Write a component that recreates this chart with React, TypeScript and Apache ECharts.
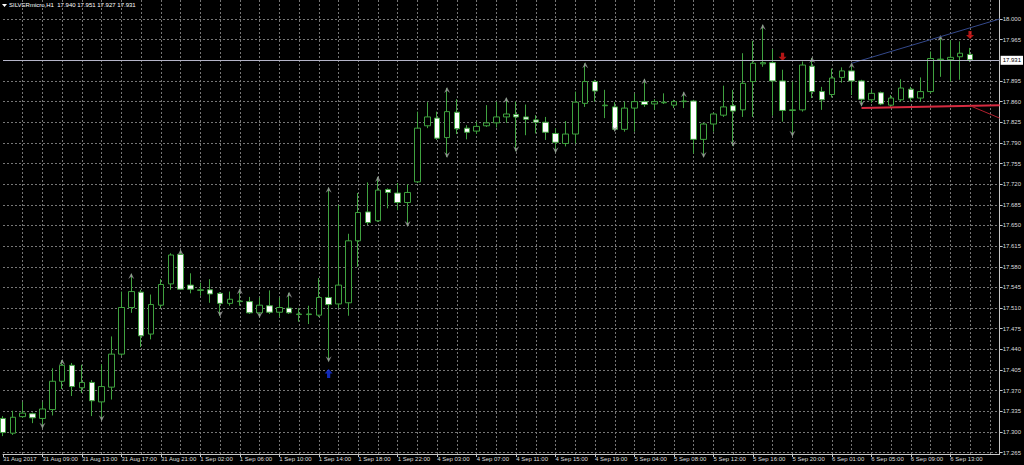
import React, { useEffect, useRef } from "react";
import * as echarts from "echarts";

const symbolName = "SILVERmicro,H1";

const opens = [
  17.323, 17.298, 17.326, 17.331, 17.323, 17.338, 17.386, 17.413, 17.375, 17.384,
  17.351, 17.376, 17.432, 17.511, 17.537, 17.466, 17.515, 17.551, 17.601, 17.549,
  17.540, 17.541, 17.535, 17.518, 17.521, 17.521, 17.502, 17.514, 17.503, 17.510,
  17.499, 17.499, 17.498, 17.528, 17.517, 17.519, 17.624, 17.673, 17.658, 17.711,
  17.705, 17.689, 17.724, 17.819, 17.832, 17.799, 17.842, 17.815, 17.810, 17.819,
  17.824, 17.834, 17.838, 17.834, 17.829, 17.825, 17.806, 17.789, 17.805, 17.857,
  17.894, 17.853, 17.851, 17.813, 17.849, 17.860, 17.856, 17.858, 17.854, 17.860,
  17.861, 17.796, 17.822, 17.837, 17.853, 17.846, 17.894, 17.924, 17.926, 17.895,
  17.845, 17.846, 17.920, 17.877, 17.872, 17.901, 17.912, 17.895, 17.863, 17.875,
  17.854, 17.863, 17.881, 17.866, 17.877, 17.931, 17.931, 17.936, 17.940,
];
const closes = [
  17.299, 17.325, 17.332, 17.324, 17.339, 17.386, 17.413, 17.377, 17.384, 17.353,
  17.377, 17.432, 17.511, 17.538, 17.463, 17.516, 17.550, 17.600, 17.542, 17.542,
  17.541, 17.534, 17.518, 17.525, 17.522, 17.502, 17.515, 17.503, 17.511, 17.502,
  17.500, 17.500, 17.528, 17.516, 17.549, 17.624, 17.672, 17.655, 17.710, 17.706,
  17.689, 17.706, 17.815, 17.834, 17.798, 17.843, 17.814, 17.808, 17.818, 17.824,
  17.834, 17.839, 17.834, 17.830, 17.825, 17.808, 17.791, 17.805, 17.859, 17.894,
  17.878, 17.854, 17.813, 17.849, 17.860, 17.855, 17.860, 17.859, 17.860, 17.861,
  17.796, 17.822, 17.839, 17.851, 17.844, 17.891, 17.925, 17.926, 17.895, 17.845,
  17.846, 17.922, 17.877, 17.863, 17.900, 17.912, 17.895, 17.864, 17.874, 17.856,
  17.866, 17.883, 17.866, 17.877, 17.933, 17.932, 17.935, 17.942, 17.931,
];
const highs = [
  17.327, 17.336, 17.351, 17.333, 17.351, 17.408, 17.422, 17.417, 17.414, 17.388,
  17.415, 17.462, 17.538, 17.568, 17.541, 17.533, 17.559, 17.603, 17.608, 17.569,
  17.553, 17.559, 17.537, 17.538, 17.542, 17.529, 17.528, 17.540, 17.528, 17.536,
  17.510, 17.514, 17.561, 17.714, 17.685, 17.636, 17.705, 17.723, 17.732, 17.713,
  17.722, 17.720, 17.843, 17.859, 17.843, 17.883, 17.864, 17.820, 17.826, 17.854,
  17.860, 17.866, 17.860, 17.855, 17.837, 17.834, 17.815, 17.827, 17.877, 17.925,
  17.897, 17.880, 17.859, 17.860, 17.874, 17.898, 17.864, 17.874, 17.863, 17.876,
  17.863, 17.824, 17.841, 17.887, 17.880, 17.942, 17.963, 17.990, 17.949, 17.914,
  17.894, 17.928, 17.934, 17.885, 17.916, 17.918, 17.925, 17.897, 17.880, 17.877,
  17.871, 17.898, 17.885, 17.901, 17.945, 17.971, 17.964, 17.962, 17.951,
];
const lows = [
  17.293, 17.295, 17.324, 17.315, 17.307, 17.328, 17.373, 17.361, 17.366, 17.327,
  17.320, 17.355, 17.429, 17.502, 17.444, 17.457, 17.510, 17.541, 17.541, 17.535,
  17.531, 17.519, 17.497, 17.514, 17.514, 17.500, 17.495, 17.500, 17.495, 17.500,
  17.487, 17.483, 17.495, 17.420, 17.510, 17.497, 17.580, 17.651, 17.656, 17.679,
  17.676, 17.649, 17.722, 17.815, 17.795, 17.766, 17.805, 17.796, 17.805, 17.817,
  17.816, 17.824, 17.776, 17.803, 17.806, 17.795, 17.774, 17.784, 17.789, 17.851,
  17.860, 17.832, 17.810, 17.809, 17.809, 17.851, 17.846, 17.856, 17.849, 17.849,
  17.772, 17.766, 17.809, 17.834, 17.785, 17.834, 17.834, 17.919, 17.836, 17.826,
  17.802, 17.843, 17.866, 17.846, 17.867, 17.892, 17.871, 17.853, 17.858, 17.854,
  17.849, 17.860, 17.860, 17.860, 17.874, 17.902, 17.894, 17.897, 17.927,
];

const xTickLabels = [
  "31 Aug 2017", "31 Aug 09:00", "31 Aug 13:00", "31 Aug 17:00", "31 Aug 21:00",
  "1 Sep 02:00", "1 Sep 06:00", "1 Sep 10:00", "1 Sep 14:00", "1 Sep 18:00",
  "1 Sep 22:00", "4 Sep 03:00", "4 Sep 07:00", "4 Sep 11:00", "4 Sep 15:00",
  "4 Sep 19:00", "5 Sep 04:00", "5 Sep 08:00", "5 Sep 12:00", "5 Sep 16:00",
  "5 Sep 20:00", "6 Sep 01:00", "6 Sep 05:00", "6 Sep 09:00", "6 Sep 13:00",
];

const yTicks = [
  17.265, 17.3, 17.335, 17.37, 17.405, 17.44, 17.475, 17.51, 17.545, 17.58, 17.615,
  17.65, 17.685, 17.72, 17.755, 17.79, 17.825, 17.86, 17.895, 17.965, 18.0,
];

// fractal markers [bar index, price]
const fractalUp = [
  [6, 17.422], [13, 17.568], [18, 17.608], [24, 17.542], [29, 17.536], [33, 17.714],
  [38, 17.732], [45, 17.883], [51, 17.866], [59, 17.925], [65, 17.898], [69, 17.876],
  [77, 17.99], [82, 17.934], [86, 17.925], [95, 17.971],
];
const fractalDown = [
  [4, 17.307], [10, 17.32], [22, 17.497], [26, 17.495], [33, 17.42], [41, 17.649],
  [45, 17.766], [52, 17.776], [56, 17.774], [62, 17.81], [71, 17.766], [74, 17.785],
  [80, 17.802], [87, 17.853],
];
const sellSignals = [[79, 17.936], [98, 17.973]];
const buySignals = [[33, 17.399]];

const blueTrend = [[86, 17.925], [101, 18.0]];
const redSupport = [[87, 17.849], [101, 17.854]];
const redSlope = [[98, 17.853], [101, 17.832]];

const EXTRA_SLOTS = 3;
const FONT = "Liberation Sans";

export default function App() {
  const ref = useRef<HTMLDivElement>(null);
  useEffect(() => {
    document.body.style.margin = "0";
    document.body.style.background = "#000";
    const chart = echarts.init(ref.current!, null, { renderer: "svg" });
    const n = opens.length;
    const categories = Array.from({ length: n + EXTRA_SLOTS }, (_, i) => `b${i}`);
    const candles = opens.map((o, i) => [o, closes[i], lows[i], highs[i]]);
    const last = n - 1;
    const lastClose = closes[last];
    const header = `${symbolName}  ${opens[last].toFixed(3)} ${highs[last].toFixed(3)} ${lows[last].toFixed(3)} ${lastClose.toFixed(3)}`;
    const green = "#3fa23f";
    const labelShow = (i: number) => i % 4 === 0 && i / 4 < xTickLabels.length;

    chart.setOption({
      animation: false,
      backgroundColor: "#000000",
      grid: { left: 0, right: 24, top: 0, bottom: 11 },
      xAxis: {
        type: "category",
        data: categories,
        boundaryGap: false,
        axisLine: { show: true, lineStyle: { color: "#c8c8c8", width: 1 } },
        axisTick: { show: true, interval: (i: number) => labelShow(i), length: 3, lineStyle: { color: "#c8c8c8" } },
        axisLabel: {
          interval: (i: number) => labelShow(i),
          formatter: (_v: string, i: number) => (labelShow(i) ? xTickLabels[i / 4] : ""),
          align: "left",
          margin: 2,
          fontSize: 6,
          color: "#dcdcdc",
          fontFamily: FONT,
        },
        splitLine: {
          show: true,
          interval: (i: number) => i % 2 === 0 && i > 0,
          lineStyle: { color: "#767676", type: [2, 2], width: 1 },
        },
      },
      yAxis: {
        type: "value",
        position: "right",
        min: 17.2627,
        max: 18.0322,
        axisLine: { show: true, lineStyle: { color: "#c8c8c8", width: 1 } },
        axisTick: { show: true, customValues: yTicks, length: 3, lineStyle: { color: "#c8c8c8" } },
        axisLabel: {
          customValues: yTicks,
          formatter: (v: number) => v.toFixed(3),
          margin: 3,
          fontSize: 6,
          color: "#dcdcdc",
          fontFamily: FONT,
        },
        splitLine: { show: true, lineStyle: { color: "#767676", type: [2, 2], width: 1 } },
      },
      series: [
        {
          type: "candlestick",
          data: candles,
          barWidth: 6,
          silent: true,
          itemStyle: {
            color: "#000000",
            color0: "#ffffff",
            borderColor: green,
            borderColor0: green,
            borderWidth: 1,
          },
          markLine: {
            silent: true,
            symbol: ["none", "none"],
            lineStyle: { color: "#b4b4c8", type: "solid", width: 1 },
            label: {
              position: "end",
              formatter: lastClose.toFixed(3),
              backgroundColor: "#ffffff",
              color: "#000000",
              fontSize: 6,
              fontFamily: FONT,
              padding: [2, 2, 1, 2],
              distance: 1,
            },
            data: [{ yAxis: lastClose }],
          },
        },
        {
          type: "line",
          data: blueTrend,
          symbol: "none",
          silent: true,
          lineStyle: { color: "#34498c", width: 1 },
        },
        {
          type: "line",
          data: redSupport,
          symbol: "none",
          silent: true,
          lineStyle: { color: "#d62a40", width: 2 },
        },
        {
          type: "line",
          data: redSlope,
          symbol: "none",
          silent: true,
          lineStyle: { color: "#b0202e", width: 1 },
        },
        {
          type: "scatter",
          data: fractalUp,
          silent: true,
          symbol: "path://M5,0 L10,8 L5,5 L0,8 Z",
          symbolSize: [6, 6],
          symbolOffset: [0, 2],
          itemStyle: { color: "#a0a0a0" },
        },
        {
          type: "scatter",
          data: fractalDown,
          silent: true,
          symbol: "path://M5,10 L10,2 L5,5 L0,2 Z",
          symbolSize: [6, 6],
          symbolOffset: [0, -2],
          itemStyle: { color: "#a0a0a0" },
        },
        {
          type: "scatter",
          data: sellSignals,
          silent: true,
          symbol: "path://M3,0 L7,0 L7,5 L10,5 L5,10 L0,5 L3,5 Z",
          symbolSize: [8, 8],
          itemStyle: { color: "#e01a1a" },
        },
        {
          type: "scatter",
          data: buySignals,
          silent: true,
          symbol: "path://M5,0 L10,5 L7,5 L7,10 L3,10 L3,5 L0,5 Z",
          symbolSize: [8, 9],
          itemStyle: { color: "#1434e6" },
        },
      ],
      graphic: [
        { type: "polygon", shape: { points: [[2, 4], [7, 4], [4.5, 7]] }, style: { fill: "#ffffff" } },
        {
          type: "text",
          left: 9,
          top: 2,
          style: { text: header, fill: "#ffffff", font: `6px "${FONT}"` },
        },
      ],
    });
    return () => chart.dispose();
  }, []);
  return <div ref={ref} style={{ position: "fixed", left: 0, top: 0, width: 1024, height: 465 }} />;
}
